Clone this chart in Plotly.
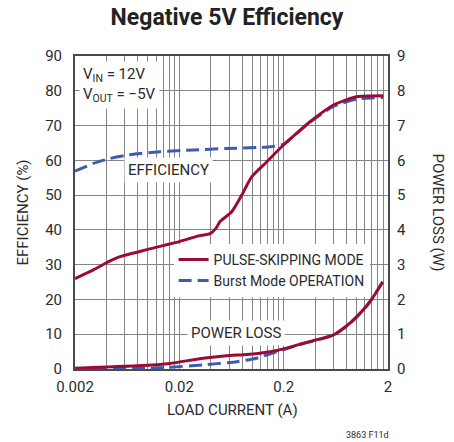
import plotly.graph_objects as go

# Load current (A) and efficiency (%) for each mode
ps_eff_current = [0.002, 0.003, 0.0043, 0.0054, 0.01, 0.0203, 0.03, 0.0394, 0.045, 0.0491,
                  0.0636, 0.0793, 0.099, 0.138, 0.199, 0.267, 0.358, 0.6, 1.0, 1.8]
ps_eff = [26.0, 28.5, 31.0, 32.3, 34.4, 36.7, 38.2, 38.9, 40.5, 42.4,
          45.2, 50.0, 55.3, 59.6, 64.4, 67.8, 71.1, 75.9, 78.3, 78.6]

bm_eff_current = [0.002, 0.003, 0.0043, 0.0063, 0.0131, 0.0272, 0.057, 0.119, 0.148, 0.199,
                  0.267, 0.358, 0.6, 1.0, 1.8]
bm_eff = [56.9, 59.1, 60.5, 61.5, 62.5, 63.0, 63.4, 63.7, 63.9, 64.6,
          67.8, 71.0, 75.5, 77.6, 78.1]

# Load current (A) and power loss (W) for each mode
ps_loss_current = [0.002, 0.0078, 0.0163, 0.034, 0.071, 0.102, 0.172, 0.309, 0.6, 0.81,
                   1.0, 1.25, 1.45, 1.78]
ps_loss = [0.02, 0.09, 0.16, 0.31, 0.40, 0.43, 0.53, 0.74, 0.98, 1.25,
           1.50, 1.82, 2.08, 2.50]

bm_loss_current = [0.002, 0.01, 0.0163, 0.034, 0.071, 0.11, 0.172, 0.309, 0.6, 0.81,
                   1.0, 1.25, 1.45, 1.78]
bm_loss = [0.0, 0.02, 0.05, 0.12, 0.21, 0.31, 0.50, 0.73, 0.97, 1.24,
           1.49, 1.81, 2.07, 2.52]

x_tickvals = [0.002, 0.02, 0.2, 2]
x_ticktext = ["0.002", "0.02", "0.2", "2"]
eff_ticks = [0, 10, 20, 30, 40, 50, 60, 70, 80, 90]
loss_ticks = [0, 1, 2, 3, 4, 5, 6, 7, 8, 9]

RED = "#9c0b36"
BLUE = "#3b5cb2"
GRID = "#858585"
FRAME = "#4a4a4a"
TXT = "#2b2b2b"
FONT = "Roboto, Arial, sans-serif"

# grid at 2x, 3x ... 9x of each decade start (0.004, 0.006, ... 0.018, 0.04 ...)
minor_vals = [base * k for base in (0.002, 0.02, 0.2) for k in range(2, 10)]

fig = go.Figure()

fig.add_trace(go.Scatter(x=bm_eff_current, y=bm_eff, mode="lines", name="Burst Mode OPERATION",
                         line=dict(color=BLUE, width=3, dash="13px,6px", shape="spline", smoothing=0.6),
                         legendrank=2))
fig.add_trace(go.Scatter(x=bm_loss_current, y=bm_loss, mode="lines", yaxis="y2", showlegend=False,
                         line=dict(color=BLUE, width=3, dash="13px,6px", shape="spline", smoothing=0.5)))
fig.add_trace(go.Scatter(x=ps_eff_current, y=ps_eff, mode="lines", name="PULSE-SKIPPING MODE",
                         line=dict(color=RED, width=3, shape="spline", smoothing=0.6),
                         legendrank=1))
fig.add_trace(go.Scatter(x=ps_loss_current, y=ps_loss, mode="lines", yaxis="y2", showlegend=False,
                         line=dict(color=RED, width=3, shape="spline", smoothing=0.5)))

fig.update_layout(
    width=454, height=442,
    margin=dict(l=75, r=66, t=56, b=73),
    paper_bgcolor="white", plot_bgcolor="white",
    font=dict(family=FONT, size=15, color=TXT),
    title=dict(text="<b>Negative 5V Efficiency</b>", x=0.5, xanchor="center", y=0.962, yanchor="middle",
               font=dict(family=FONT, size=23, color="#222222")),
    xaxis=dict(type="log", range=[-2.69897, 0.30103], tickvals=x_tickvals, ticktext=x_ticktext,
               showgrid=True, gridcolor=GRID, gridwidth=1, ticks="",
               minor=dict(tickvals=minor_vals, showgrid=True, gridcolor=GRID, gridwidth=1, ticks=""),
               showline=True, mirror=True, linecolor=FRAME, linewidth=2, zeroline=False,
               ticklabelstandoff=3,
               tickfont=dict(size=15, color=TXT)),
    yaxis=dict(range=[0, 90], tickvals=eff_ticks, showgrid=True, gridcolor=GRID, gridwidth=1,
               ticks="", showline=True, mirror=True, linecolor=FRAME, linewidth=2, zeroline=False,
               ticklabelstandoff=8, tickfont=dict(size=15, color=TXT)),
    yaxis2=dict(range=[0, 9], tickvals=loss_ticks, overlaying="y", side="right", showgrid=False,
                ticks="", showline=False, zeroline=False, ticklabelstandoff=8,
                tickfont=dict(size=15, color=TXT)),
    legend=dict(x=0.315, y=0.40, xanchor="left", yanchor="top", bgcolor="white", borderwidth=0,
                font=dict(size=14, color=TXT), tracegroupgap=0, itemwidth=30),
    showlegend=True,
)

annotations = [
    dict(text="V<sub>IN</sub> = 12V<br>V<sub>OUT</sub> = \u22125V", xref="paper", yref="paper",
         x=0.012, y=0.985, xanchor="left", yanchor="top", align="left", showarrow=False,
         bgcolor="white", borderpad=3, font=dict(size=15, color=TXT)),
    dict(text="EFFICIENCY", xref="paper", yref="paper", x=(168 - 75) / 313, y=(369 - 170) / 313,
         xanchor="center", yanchor="middle", showarrow=False, bgcolor="white", borderpad=3,
         font=dict(size=15, color=TXT)),
    dict(text="POWER LOSS", xref="paper", yref="paper", x=(236 - 75) / 313, y=(369 - 333) / 313,
         xanchor="center", yanchor="middle", showarrow=False, bgcolor="white", borderpad=3,
         font=dict(size=15, color=TXT)),
    dict(text="EFFICIENCY (%)", xref="paper", yref="paper", x=(22 - 75) / 313, y=0.5,
         xanchor="center", yanchor="middle", textangle=-90, showarrow=False,
         font=dict(size=15, color=TXT)),
    dict(text="POWER LOSS (W)", xref="paper", yref="paper", x=(438 - 75) / 313, y=0.5,
         xanchor="center", yanchor="middle", textangle=90, showarrow=False,
         font=dict(size=15, color=TXT)),
    dict(text="LOAD CURRENT (A)", xref="paper", yref="paper", x=(232 - 75) / 313, y=(369 - 410) / 313,
         xanchor="center", yanchor="middle", showarrow=False, font=dict(size=15, color=TXT)),
    dict(text="3863 F11d", xref="paper", yref="paper", x=(367 - 75) / 313, y=(369 - 435) / 313,
         xanchor="center", yanchor="middle", showarrow=False, font=dict(size=9, color=TXT)),
]
fig.update_layout(annotations=annotations)

fig.write_html("out.html")
